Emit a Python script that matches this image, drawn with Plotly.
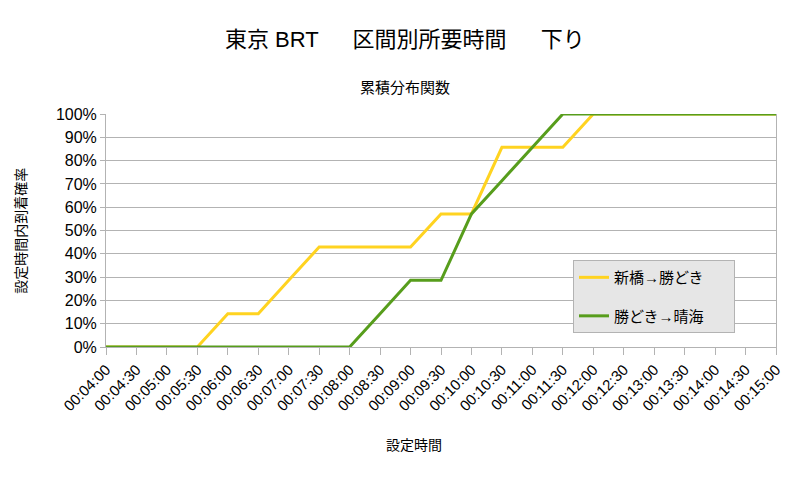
import plotly.graph_objects as go

times = ["00:04:00", "00:04:30", "00:05:00", "00:05:30", "00:06:00", "00:06:30",
         "00:07:00", "00:07:30", "00:08:00", "00:08:30", "00:09:00", "00:09:30",
         "00:10:00", "00:10:30", "00:11:00", "00:11:30", "00:12:00", "00:12:30",
         "00:13:00", "00:13:30", "00:14:00", "00:14:30", "00:15:00"]

shinbashi_kachidoki = [0, 0, 0, 0, 0.143, 0.143, 0.286, 0.429, 0.429, 0.429, 0.429, 0.571,
                       0.571, 0.857, 0.857, 0.857, 1, 1, 1, 1, 1, 1, 1]
kachidoki_harumi = [0, 0, 0, 0, 0, 0, 0, 0, 0, 0.143, 0.286, 0.286,
                    0.571, 0.714, 0.857, 1, 1, 1, 1, 1, 1, 1, 1]

font = "Liberation Sans, Noto Sans CJK JP, sans-serif"

fig = go.Figure()
fig.add_trace(go.Scatter(x=times, y=shinbashi_kachidoki, mode="lines", name="新橋→勝どき      ",
                         legendgroup="a", line=dict(color="#ffd320", width=3)))
fig.add_trace(go.Scatter(x=times, y=kachidoki_harumi, mode="lines", name="勝どき→晴海      ",
                         legendgroup="b", line=dict(color="#579d1c", width=3)))

# page body has an 8px margin, so the margins are shifted by that
fig.update_layout(
    width=800, height=477,
    margin=dict(l=98, r=32, t=106, b=138),
    paper_bgcolor="white", plot_bgcolor="white",
    font=dict(family=font, color="black", size=13),
    showlegend=True,
    legend=dict(x=0.697, y=0.373, xanchor="left", yanchor="top",
                bgcolor="#e6e6e6", bordercolor="#b3b3b3", borderwidth=1,
                font=dict(size=15), tracegroupgap=16),
    annotations=[
        dict(text="東京 BRT　  区間別所要時間　  下り", x=0.446, y=1.318, xref="paper", yref="paper",
             showarrow=False, font=dict(size=22), xanchor="center", yanchor="middle"),
        dict(text="累積分布関数", x=0.446, y=1.112, xref="paper", yref="paper",
             showarrow=False, font=dict(size=15), xanchor="center", yanchor="middle"),
        dict(text="設定時間", x=0.46, y=-0.42, xref="paper", yref="paper",
             showarrow=False, font=dict(size=14), xanchor="center", yanchor="middle"),
        dict(text="設定時間内到着確率", x=-0.128, y=0.5, xref="paper", yref="paper",
             showarrow=False, font=dict(size=14), textangle=-90,
             xanchor="center", yanchor="middle"),
    ],
)

fig.update_xaxes(type="category", showgrid=False, showline=True, linecolor="#b3b3b3",
                 mirror=False, ticks="outside", ticklen=7, tickcolor="#b3b3b3",
                 tickangle=-45, tickfont=dict(size=15), range=[0, len(times) - 1])
fig.update_yaxes(range=[0, 1], dtick=0.1, tickformat=".0%", showgrid=True,
                 gridcolor="#b3b3b3", showline=True, linecolor="#b3b3b3", mirror=True,
                 ticks="outside", ticklen=5, tickcolor="#b3b3b3",
                 tickfont=dict(size=16), zeroline=False)

fig.write_html("out.html")
